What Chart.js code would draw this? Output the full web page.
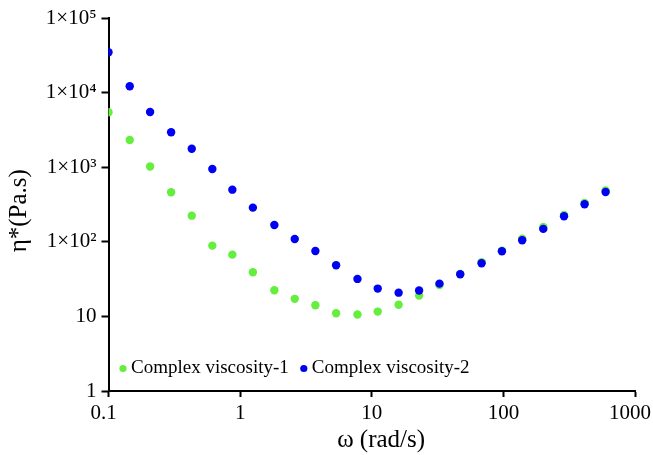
<!DOCTYPE html>
<html>
<head>
<meta charset="utf-8">
<script src="https://cdn.jsdelivr.net/npm/chart.js@4.4.1/dist/chart.umd.min.js"></script>
<style>
  html, body { margin: 0; padding: 0; background: #fff; }
  #wrap { width: 653px; height: 455px; }
</style>
</head>
<body>
<div id="wrap"><canvas id="viscosityChart"></canvas></div>
<script>
// angular frequency (rad/s)
const omega = [0.1, 0.145, 0.207, 0.299, 0.429, 0.615, 0.873, 1.25, 1.82, 2.6, 3.73, 5.36, 7.79,
               11.1, 16, 22.9, 32.7, 47, 68.3, 97.5, 139, 201, 289, 414, 598];
// complex viscosity (Pa.s)
const viscosity1 = [5450, 2320, 1020, 461, 224, 88.8, 67.3, 39.1, 22.4, 17.2, 14.1, 11, 10.6,
                    11.6, 14.3, 19, 26.4, 37.1, 53.2, 76.1, 110, 158, 229, 332, 488];
const viscosity2 = [34700, 12150, 5500, 2940, 1770, 947, 500, 287, 168, 109, 75.4, 48.5, 31.8,
                    23.6, 20.8, 22.2, 27.5, 36.7, 51.6, 74.7, 105, 149, 220, 319, 466];
const seriesNames = ['Complex viscosity-1', 'Complex viscosity-2'];

const xTicks = [0.1, 1, 10, 100, 1000];
const xTickLabels = ['0.1', '1', '10', '100', '1000'];
const yTicks = [1, 10, 100, 1000, 10000, 100000];
const yTickLabels = ['1', '10', '1×10²', '1×10³', '1×10⁴', '1×10⁵'];

const serif = "'Liberation Serif', 'Times New Roman', serif";
Chart.defaults.font.family = serif;
Chart.defaults.color = '#000';

function toPoints(ys) {
    return omega.map((w, i) => ({ x: w, y: ys[i] }));
}

// legend sits inside the plot, bottom left
const insideLegend = {
    id: 'insideLegend',
    afterDraw(chart) {
        const { ctx, chartArea } = chart;
        ctx.save();
        ctx.font = '19px ' + serif;
        ctx.textBaseline = 'middle';
        let x = chartArea.left + 14.5;
        const y = chartArea.bottom - 22.5;
        chart.data.datasets.forEach(ds => {
            ctx.fillStyle = ds.backgroundColor;
            ctx.beginPath();
            ctx.arc(x, y, 3.6, 0, Math.PI * 2);
            ctx.fill();
            ctx.fillStyle = '#000';
            ctx.fillText(ds.label, x + 8, y);
            x += 8 + ctx.measureText(ds.label).width + 15;
        });
        ctx.restore();
    }
};

// end labels of the x axis are pulled in a little, so 1000 stays on the page
const nudgeEndLabels = {
    id: 'nudgeEndLabels',
    beforeDraw(chart) {
        const items = chart.scales.x.getLabelItems(chart.chartArea);
        if (!items.length) return;
        items[0].options.translation[0] -= 5;
        items[items.length - 1].options.translation[0] -= 5;
    }
};

const data = {
    datasets: [{
        label: seriesNames[0],
        data: toPoints(viscosity1),
        backgroundColor: '#66ee3f',
        borderWidth: 0,
        pointRadius: 4.2,
        order: 1
    }, {
        label: seriesNames[1],
        data: toPoints(viscosity2),
        backgroundColor: '#0000f2',
        borderWidth: 0,
        pointRadius: 4.2,
        order: 0
    }]
};

const config = {
    type: 'scatter',
    data: data,
    options: {
        responsive: true,
        maintainAspectRatio: false,
        animation: false,
        layout: { padding: { top: 18, right: 18, left: 0, bottom: 0 } },
        plugins: {
            legend: { display: false },
            tooltip: { enabled: false }
        },
        scales: {
            x: {
                type: 'logarithmic',
                min: 0.1,
                max: 1000,
                afterBuildTicks: s => { s.ticks = xTicks.map(v => ({ value: v })); },
                ticks: {
                    callback: (v, i) => xTickLabels[i],
                    font: { size: 21 },
                    padding: 4,
                    maxRotation: 0,
                    autoSkip: false
                },
                grid: { drawOnChartArea: false, tickLength: 6, tickWidth: 2, tickColor: '#000' },
                border: { color: '#000', width: 2 },
                title: { display: true, text: '   ω (rad/s)', font: { size: 25 }, padding: { top: 0, bottom: 0 } },
                afterFit: s => { s.height = 64; s.paddingLeft = 0; s.paddingRight = 0; }
            },
            y: {
                type: 'logarithmic',
                min: 1,
                max: 100000,
                afterBuildTicks: s => { s.ticks = yTicks.map(v => ({ value: v })); },
                ticks: {
                    callback: (v, i) => yTickLabels[i],
                    font: { size: 21 },
                    padding: 5,
                    autoSkip: false
                },
                grid: { drawOnChartArea: false, tickLength: 7, tickWidth: 2, tickColor: '#000' },
                border: { color: '#000', width: 2 },
                title: { display: true, text: 'η*(Pa.s)  ', font: { size: 25 }, padding: { top: 4, bottom: 0 } },
                afterFit: s => { s.width = 108.5; s.paddingTop = 0; s.paddingBottom = 0; }
            }
        }
    },
    plugins: [insideLegend, nudgeEndLabels]
};

const ctx = document.getElementById('viscosityChart').getContext('2d');
new Chart(ctx, config);
</script>
</body>
</html>
